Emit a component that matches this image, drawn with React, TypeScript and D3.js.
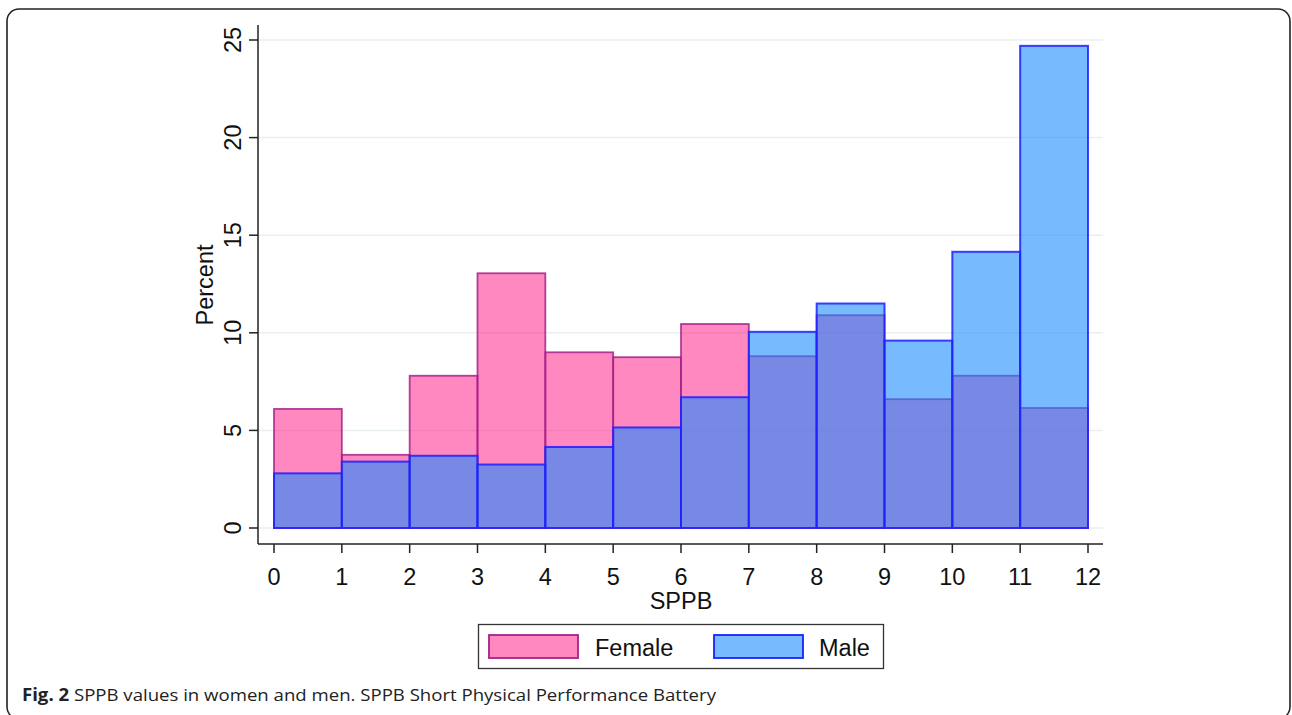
import React from "react";
import * as d3 from "d3";

const bins = [0, 1, 2, 3, 4, 5, 6, 7, 8, 9, 10, 11];
const femaleValues = [6.1, 3.75, 7.8, 13.05, 9.0, 8.75, 10.45, 8.8, 10.9, 6.6, 7.8, 6.15];
const maleValues = [2.8, 3.4, 3.7, 3.25, 4.15, 5.15, 6.7, 10.05, 11.5, 9.6, 14.15, 24.7];
const xTicks = [0, 1, 2, 3, 4, 5, 6, 7, 8, 9, 10, 11, 12];
const yTicks = [0, 5, 10, 15, 20, 25];

const W = 1292;
const H = 715;
const x = d3.scaleLinear().domain([0, 12]).range([274, 1088]);
const y = d3.scaleLinear().domain([0, 25]).range([528, 40]);

const axisX = 258;
const axisY = 544;
const plotRight = 1103;
const plotTop = 25;

const femaleFill = "rgb(255,0,120)";
const femaleOpacity = 0.467;
const femaleStroke = "#a3238a";
const maleFill = "rgb(23,138,253)";
const maleOpacity = 0.59;
const maleStroke = "#1f1fff";

const font = "'Liberation Sans', Arial, sans-serif";
const fs = 23.5;

export default function App() {
  return (
    <svg
      width={W}
      height={H}
      style={{ position: "absolute", left: 0, top: 0, background: "#fff" }}
    >
      <rect x={7} y={9} width={1283} height={710} rx={12} ry={12} fill="#fff" stroke="#222" strokeWidth={1.6} />
      {yTicks.map((t) => (
        <line key={"g" + t} x1={axisX} x2={plotRight} y1={y(t)} y2={y(t)} stroke="#e8f0f2" strokeWidth={1.5} />
      ))}
      {bins.map((b, i) => (
        <rect
          key={"f" + b}
          x={x(b)}
          y={y(femaleValues[i])}
          width={x(b + 1) - x(b)}
          height={y(0) - y(femaleValues[i])}
          fill={femaleFill}
          fillOpacity={femaleOpacity}
          stroke={femaleStroke}
          strokeWidth={1.8}
          strokeOpacity={0.85}
        />
      ))}
      {bins.map((b, i) => (
        <rect
          key={"m" + b}
          x={x(b)}
          y={y(maleValues[i])}
          width={x(b + 1) - x(b)}
          height={y(0) - y(maleValues[i])}
          fill={maleFill}
          fillOpacity={maleOpacity}
          stroke={maleStroke}
          strokeWidth={2}
          strokeOpacity={0.85}
        />
      ))}
      <line x1={axisX} x2={axisX} y1={plotTop} y2={axisY} stroke="#222" strokeWidth={1.5} />
      <line x1={axisX} x2={plotRight} y1={axisY} y2={axisY} stroke="#222" strokeWidth={1.5} />
      {yTicks.map((t) => (
        <g key={"yt" + t}>
          <line x1={axisX - 9} x2={axisX} y1={y(t)} y2={y(t)} stroke="#222" strokeWidth={1.5} />
          <text
            transform={`translate(${241},${y(t)}) rotate(-90)`}
            textAnchor="middle"
            fontFamily={font}
            fontSize={fs}
            fill="#111"
          >
            {t}
          </text>
        </g>
      ))}
      {xTicks.map((t) => (
        <g key={"xt" + t}>
          <line x1={x(t)} x2={x(t)} y1={axisY} y2={axisY + 9} stroke="#222" strokeWidth={1.5} />
          <text x={x(t)} y={585} textAnchor="middle" fontFamily={font} fontSize={fs} fill="#111">
            {t}
          </text>
        </g>
      ))}
      <text x={681} y={609} textAnchor="middle" fontFamily={font} fontSize={fs} fill="#111">
        SPPB
      </text>
      <text
        transform={`translate(${213},${285}) rotate(-90)`}
        textAnchor="middle"
        fontFamily={font}
        fontSize={fs}
        fill="#111"
      >
        Percent
      </text>
      <rect x={478.5} y={624.5} width={405} height={44} fill="#fff" stroke="#333" strokeWidth={1.3} />
      <rect x={489} y={635} width={89} height={23} fill={femaleFill} fillOpacity={femaleOpacity} stroke={femaleStroke} strokeWidth={1.8} />
      <text x={595} y={656} fontFamily={font} fontSize={fs} fill="#111">Female</text>
      <rect x={714} y={635} width={89} height={23} fill={maleFill} fillOpacity={maleOpacity} stroke={maleStroke} strokeWidth={1.8} />
      <text x={819} y={656} fontFamily={font} fontSize={fs} fill="#111">Male</text>
      <text x={22} y={701} fontFamily="'Open Sans', sans-serif" fontSize={17} fill="#222" textLength={694} lengthAdjust="spacingAndGlyphs">
        <tspan fontWeight="bold">Fig. 2</tspan> SPPB values in women and men. SPPB Short Physical Performance Battery
      </text>
    </svg>
  );
}
